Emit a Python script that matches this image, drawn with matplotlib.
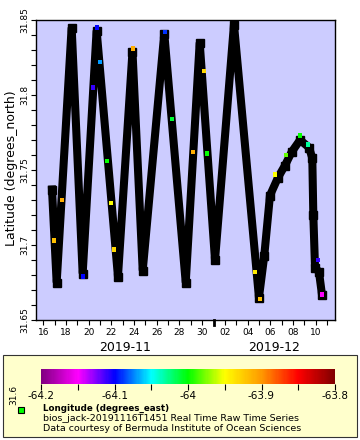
import numpy as np
import pandas as pd
import matplotlib
matplotlib.use("Agg")
import matplotlib.pyplot as plt
import matplotlib.dates as mdates
import matplotlib.transforms as mtransforms
from matplotlib.colors import LinearSegmentedColormap, Normalize
from matplotlib.colorbar import ColorbarBase

# glider track: day of November 2019 (values > 30 run into December) and latitude
track_day = [16.77, 17.18, 18.50, 19.47, 20.70, 22.58, 23.86, 24.76, 26.66, 28.55,
             29.78, 31.13, 32.80, 35.00, 35.47, 35.97, 36.68, 37.29, 37.88, 38.62,
             39.41, 39.70, 39.79, 39.94, 40.29, 40.55]
track_lat = [31.737, 31.675, 31.845, 31.681, 31.843, 31.679, 31.829, 31.683, 31.841, 31.675,
             31.835, 31.690, 31.847, 31.665, 31.693, 31.733, 31.745, 31.753, 31.762, 31.770,
             31.765, 31.758, 31.720, 31.685, 31.682, 31.667]

# samples whose longitude colour shows through
pt_day = [16.94, 17.65, 19.50, 20.73, 20.97, 20.38, 21.61, 21.96, 22.23, 23.90, 26.72, 27.34,
          29.19, 30.16, 30.42, 34.65, 35.09, 36.41, 37.41, 38.62, 39.32, 40.23, 40.55]
pt_lat = [31.703, 31.730, 31.679, 31.845, 31.822, 31.805, 31.756, 31.728, 31.697, 31.831,
          31.842, 31.784, 31.762, 31.816, 31.761, 31.682, 31.664, 31.747, 31.760, 31.773,
          31.767, 31.690, 31.667]
pt_lon = [-63.92, -63.91, -64.10, -64.10, -64.07, -64.11, -64.00, -63.95, -63.93, -63.91,
          -64.09, -64.01, -63.91, -63.93, -64.00, -63.94, -63.92, -63.95, -63.98, -64.00,
          -64.03, -64.11, -64.15]

lon_ticks = [-64.2, -64.15, -64.1, -64.05, -64.0, -63.95, -63.9, -63.85, -63.8]
lon_labels = ['-64.2', '', '-64.1', '', '-64', '', '-63.9', '', '-63.8']

W, H = 360, 440


def nov(d):
    return pd.Timestamp('2019-11-01') + pd.to_timedelta(np.asarray(d) - 1, unit='D')


rainbow = LinearSegmentedColormap.from_list(
    'erddap_rainbow', ['#800080', '#ff00ff', '#0000ff', '#00ffff', '#00ff00',
                       '#ffff00', '#ff9900', '#ff0000', '#800000'])
norm = Normalize(-64.2, -63.8)

fig = plt.figure(figsize=(W / 100, H / 100), dpi=100)

# legend box behind the colour bar and texts
box = plt.Rectangle((3 / W, 1 - 437 / H), 354 / W, 82 / H, transform=fig.transFigure,
                    facecolor='#ffffcc', edgecolor='#333333', linewidth=0.8, zorder=-5)
fig.patches.append(box)

ax = fig.add_axes([36 / W, 1 - 320 / H, 299 / W, 300 / H])
ax.set_facecolor('#ccccff')

t = nov(track_day)
ax.plot(t, track_lat, color='black', linewidth=5.8, marker='s', markersize=5.6,
        solid_joinstyle='bevel', zorder=2)
ax.scatter(nov(pt_day), pt_lat, c=pt_lon, cmap=rainbow, norm=norm, marker='s',
           s=9, linewidths=0, zorder=3)

x0 = nov(15.36)
x1 = nov(41.70)
ax.set_xlim(x0, x1)
ax.set_ylim(31.65, 31.85)

ax.yaxis.set_major_locator(plt.MultipleLocator(0.05))
ax.yaxis.set_minor_locator(plt.MultipleLocator(0.01))
ax.yaxis.set_major_formatter(plt.FuncFormatter(lambda v, p: f'{v:g}'))
ax.tick_params(axis='y', which='both', length=3.5, width=0.8, labelsize=6.5, pad=1)
plt.setp(ax.get_yticklabels(), rotation=90, va='center')

ax.xaxis.set_major_locator(mdates.DayLocator(bymonthday=range(2, 32, 2)))
ax.xaxis.set_minor_locator(mdates.DayLocator())
ax.xaxis.set_major_formatter(mdates.DateFormatter('%d'))
ax.tick_params(axis='x', which='both', length=3.5, width=0.8, labelsize=6.5, pad=2)

for s in ax.spines.values():
    s.set_linewidth(1.0)

# month boundary tick
trans = mtransforms.blended_transform_factory(ax.transData, ax.transAxes)
dec1 = pd.Timestamp('2019-12-01')
ax.plot([dec1, dec1], [0, -0.015], transform=trans, color='black', lw=2, clip_on=False)

# month names centred under their part of the axis
ax.text(x0 + (dec1 - x0) / 2, -0.09, '2019-11', transform=trans, ha='center',
        va='center', fontsize=9)
ax.text(dec1 + (x1 - dec1) / 2, -0.09, '2019-12', transform=trans, ha='center',
        va='center', fontsize=9)

fig.text(12 / W, 1 - 168 / H, 'Latitude (degrees_north)', rotation=90,
         ha='center', va='center', fontsize=9)

cax = fig.add_axes([41 / W, 1 - 384 / H, 294 / W, 15 / H])
cb = ColorbarBase(cax, cmap=rainbow, norm=norm, orientation='horizontal')
cb.outline.set_visible(False)
cb.set_ticks(lon_ticks)
cb.set_ticklabels(lon_labels)
cax.tick_params(length=4, width=0.8, labelsize=7.5, pad=1)

# stray 31.6 label that falls below the plot, over the colour bar labels
ytr = mtransforms.blended_transform_factory(ax.transAxes, ax.transData)
fig.text(0, 0, '31.6', transform=ytr, rotation=90, ha='center', va='center',
         fontsize=6.5, position=(-0.075, 31.6))

fig.add_artist(plt.Line2D([21 / W], [1 - 410 / H], marker='s', markersize=5,
                          markerfacecolor='#00ff00', markeredgecolor='black',
                          markeredgewidth=0.8, transform=fig.transFigure))
fig.text(43 / W, 1 - 408 / H, 'Longitude (degrees_east)', fontsize=6.3, fontweight='bold',
         va='center')
fig.text(43 / W, 1 - 418 / H, 'bios_jack-20191116T1451 Real Time Raw Time Series',
         fontsize=6.8, va='center')
fig.text(43 / W, 1 - 428 / H, 'Data courtesy of Bermuda Institute of Ocean Sciences',
         fontsize=6.8, va='center')

fig.savefig('out.png', dpi=100)
